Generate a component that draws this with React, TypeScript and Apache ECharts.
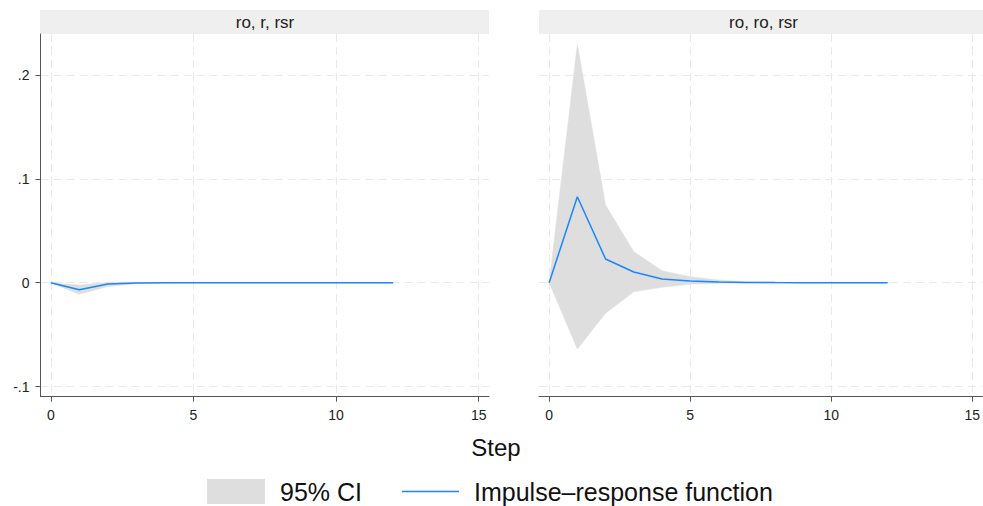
import React, { useEffect, useRef } from "react";
import * as echarts from "echarts";

const steps = [0, 1, 2, 3, 4, 5, 6, 7, 8, 9, 10, 11, 12];
const panelTitles = ["ro, r, rsr", "ro, ro, rsr"];
const xTicks = [0, 5, 10, 15];
const yTicks = [-0.1, 0, 0.1, 0.2];

// Panel 1: ro, r, rsr
const irfLeft = [0, -0.0068, -0.0013, -0.0003, -0.0001, 0, 0, 0, 0, 0, 0, 0, 0];
const lowerLeft = [0, -0.0112, -0.0037, -0.001, -0.0003, -0.0001, 0, 0, 0, 0, 0, 0, 0];
const upperLeft = [0, -0.0022, 0.0003, 0.0003, 0.0001, 0, 0, 0, 0, 0, 0, 0, 0];

// Panel 2: ro, ro, rsr
const irfRight = [0, 0.0828, 0.0228, 0.0103, 0.0036, 0.0016, 0.0007, 0.0003, 0.0001, 0, 0, 0, 0];
const lowerRight = [0, -0.0638, -0.0295, -0.0087, -0.0045, -0.0016, -0.0006, -0.0003, -0.0001, 0, 0, 0, 0];
const upperRight = [0, 0.2296, 0.0748, 0.0299, 0.0116, 0.0058, 0.0026, 0.001, 0.0004, 0.0001, 0, 0, 0];

const CI_NAME = "95% CI";
const IRF_NAME = "Impulse\u2013response function";

const BLUE = "#1a85ff";
const BAND = "#dedede";
const GRIDC = "#e9e9e9";
const AXISC = "#555555";
const FONT = "'Liberation Sans', Arial, sans-serif";

function fmtY(v: number): string {
  const r = Math.round(v * 10) / 10;
  if (r === 0) return "0";
  return String(r).replace("0.", ".");
}

export default function App() {
  const ref = useRef<HTMLDivElement>(null);

  useEffect(() => {
    if (!ref.current) return;
    const chart = echarts.init(ref.current, undefined, { renderer: "svg" });

    const panels = [
      { irf: irfLeft, lo: lowerLeft, hi: upperLeft },
      { irf: irfRight, lo: lowerRight, hi: upperRight },
    ];

    const grids = [
      { left: 40.5, top: 34, width: 448.5, height: 362.7 },
      { left: 539, top: 34, width: 449, height: 362.7 },
    ];

    const xAxes = grids.map((_, i) => ({
      type: "value",
      gridIndex: i,
      min: -0.36,
      max: 15.36,
      axisLine: { show: true, onZero: false, lineStyle: { color: AXISC, width: 1 } },
      axisTick: { show: true, length: 5, customValues: xTicks, lineStyle: { color: AXISC } },
      axisLabel: {
        show: true,
        customValues: xTicks,
        margin: 11,
        fontSize: 14,
        fontFamily: FONT,
        color: "#222",
        formatter: (v: number) => String(v),
      },
      splitLine: { show: true, lineStyle: { color: GRIDC, type: [8, 5], width: 1 } },
    }));

    const yAxes = grids.map((_, i) => ({
      type: "value",
      gridIndex: i,
      min: -0.1098,
      max: 0.2395,
      axisLine: { show: i === 0, onZero: false, lineStyle: { color: AXISC, width: 1 } },
      axisTick: { show: i === 0, length: 5, customValues: yTicks, lineStyle: { color: AXISC } },
      axisLabel: {
        show: i === 0,
        customValues: yTicks,
        margin: 11,
        fontSize: 14,
        fontFamily: FONT,
        color: "#222",
        formatter: (v: number) => fmtY(v),
      },
      splitLine: { show: true, lineStyle: { color: GRIDC, type: [8, 5], width: 1 } },
    }));

    const series: any[] = [];
    panels.forEach((p, i) => {
      series.push({
        type: "custom",
        name: CI_NAME,
        xAxisIndex: i,
        yAxisIndex: i,
        silent: true,
        itemStyle: { color: BAND },
        data: steps.map((s, k) => [s, p.lo[k], p.hi[k]]),
        encode: { x: 0, y: [1, 2] },
        renderItem: (params: any, api: any) => {
          if (params.dataIndex !== 0) return null;
          const upper = steps.map((s, k) => api.coord([s, p.hi[k]]));
          const lower = steps.map((s, k) => api.coord([s, p.lo[k]])).reverse();
          return {
            type: "polygon",
            shape: { points: upper.concat(lower) },
            style: { fill: BAND, stroke: BAND, lineWidth: 0.5 },
            silent: true,
          };
        },
        z: 1,
      });
      series.push({
        type: "line",
        name: IRF_NAME,
        xAxisIndex: i,
        yAxisIndex: i,
        symbol: "none",
        lineStyle: { color: BLUE, width: 1.5 },
        itemStyle: { color: BLUE },
        data: steps.map((s, k) => [s, p.irf[k]]),
        z: 3,
      });
    });

    const graphics: any[] = [];
    grids.forEach((g, i) => {
      const w = i === 0 ? 449 : 444;
      graphics.push({
        type: "rect",
        shape: { x: g.left - (i === 0 ? 0.5 : 0), y: 10, width: w, height: 24 },
        style: { fill: "#efefef" },
        silent: true,
      });
    });
    graphics.push({
      type: "text",
      x: 265,
      y: 22,
      style: {
        text: panelTitles[0],
        fontSize: 17,
        fontFamily: FONT,
        fill: "#222",
        textAlign: "center",
        textVerticalAlign: "middle",
      },
    });
    graphics.push({
      type: "text",
      x: 763.5,
      y: 22,
      style: {
        text: panelTitles[1],
        fontSize: 17,
        fontFamily: FONT,
        fill: "#222",
        textAlign: "center",
        textVerticalAlign: "middle",
      },
    });
    graphics.push({
      type: "text",
      x: 496,
      y: 447,
      style: {
        text: "Step",
        fontSize: 24,
        fontFamily: FONT,
        fill: "#111",
        textAlign: "center",
        textVerticalAlign: "middle",
      },
    });

    chart.setOption({
      animation: false,
      backgroundColor: "#ffffff",
      grid: grids,
      xAxis: xAxes,
      yAxis: yAxes,
      series,
      graphic: graphics,
      legend: [
        {
          data: [{ name: CI_NAME, icon: "rect", itemStyle: { color: BAND } }],
          left: 207,
          top: 479,
          itemWidth: 58,
          itemHeight: 25,
          itemGap: 0,
          padding: 0,
          selectedMode: false,
          textStyle: { fontSize: 25, fontFamily: FONT, color: "#111", padding: [0, 0, 0, 10] },
        },
        {
          data: [{ name: IRF_NAME, icon: "rect", itemStyle: { color: BLUE } }],
          left: 402,
          top: 479,
          itemWidth: 57,
          itemHeight: 1.5,
          itemGap: 0,
          padding: 0,
          selectedMode: false,
          textStyle: { fontSize: 25, fontFamily: FONT, color: "#111", padding: [0, 0, 0, 10], lineHeight: 25 },
        },
      ],
    });

    return () => {
      chart.dispose();
    };
  }, []);

  return (
    <div
      ref={ref}
      style={{ position: "fixed", left: 0, top: 0, width: 983, height: 506 }}
    />
  );
}
